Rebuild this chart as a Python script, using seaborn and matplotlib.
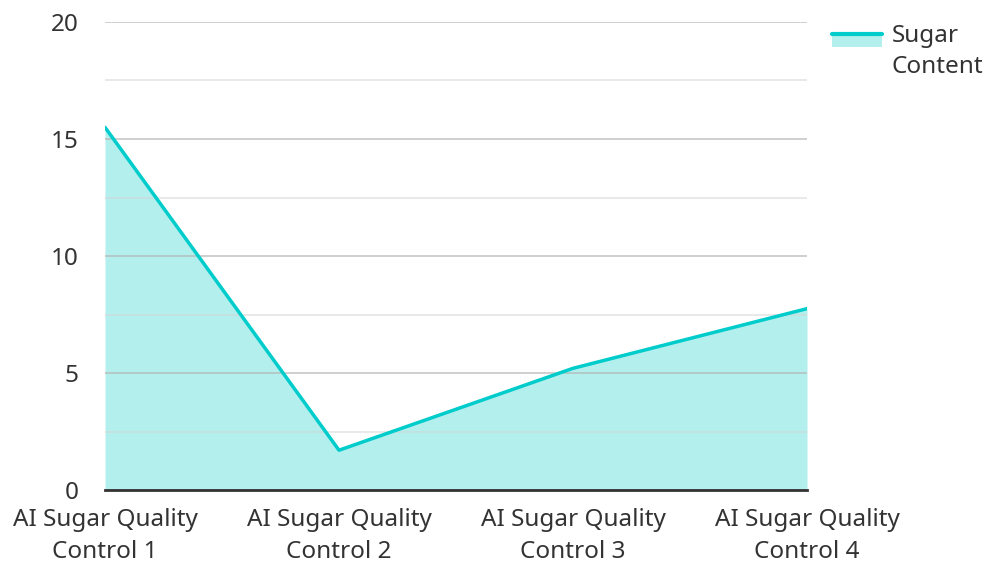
import matplotlib

matplotlib.use("Agg")
import matplotlib.pyplot as plt
import pandas as pd
import seaborn as sns
from matplotlib.legend_handler import HandlerBase
from matplotlib.lines import Line2D
from matplotlib.patches import Patch, Rectangle
from matplotlib.ticker import MultipleLocator

categories = [
  "AI Sugar Quality\nControl 1",
  "AI Sugar Quality\nControl 2",
  "AI Sugar Quality\nControl 3",
  "AI Sugar Quality\nControl 4",
]
sugar_content = [15.5, 1.7, 5.2, 7.75]
series_name = "Sugar\nContent"

LINE_COLOR = "#00cccc"
FILL_COLOR = "#b2efed"
TEXT_COLOR = "#333333"
FONT_SIZE = 17.5


class HandlerAreaLine(HandlerBase):
  # area swatch with the line on its top edge, lifted to the first text line
  def create_artists(
    self, legend, orig_handle, xdescent, ydescent, width, height, fontsize, trans
  ):
    center = height / 2 - ydescent + fontsize * 0.48
    half = 4.6
    rect = Rectangle(
      (-xdescent, center - half), width, 2 * half,
      facecolor=FILL_COLOR, edgecolor="none", transform=trans,
    )
    line = Line2D(
      [-xdescent, -xdescent + width], [center + half, center + half],
      color=LINE_COLOR, lw=3, transform=trans,
    )
    return [rect, line]


sns.set_theme(style="white")
plt.rcParams["font.family"] = ["Noto Sans", "DejaVu Sans"]

df = pd.DataFrame({"x": range(len(categories)), "y": sugar_content})

fig = plt.figure(figsize=(9.89, 5.62), dpi=100)
ax = fig.add_axes([105 / 989, 72 / 562, 702 / 989, 468 / 562])

ax.fill_between(df["x"], df["y"], 0, color=FILL_COLOR, lw=0, zorder=1)
sns.lineplot(data=df, x="x", y="y", ax=ax, color=LINE_COLOR, lw=2.5, zorder=3)

ax.set_xlim(0, len(categories) - 1)
ax.set_ylim(0, 20)
ax.yaxis.set_major_locator(MultipleLocator(5))
ax.yaxis.set_minor_locator(MultipleLocator(2.5))
ax.grid(which="major", axis="y", color="#b5b5b5", lw=1.2, alpha=0.75, zorder=2)
ax.grid(which="minor", axis="y", color="#d5d5d5", lw=1.2, alpha=0.6, zorder=2)
ax.set_axisbelow(False)

ax.set_xticks(df["x"])
ax.set_xticklabels(categories, linespacing=1.42)
ax.set_xlabel("")
ax.set_ylabel("")
ax.tick_params(axis="both", length=0, labelsize=FONT_SIZE, labelcolor=TEXT_COLOR)
ax.tick_params(axis="x", pad=13)
ax.tick_params(axis="y", pad=19)

for side in ["top", "right", "left"]:
  ax.spines[side].set_visible(False)
ax.spines["bottom"].set_color(TEXT_COLOR)
ax.spines["bottom"].set_linewidth(2)
ax.spines["bottom"].set_zorder(4)

proxy = Patch(facecolor=FILL_COLOR)
leg = fig.legend(
  [proxy],
  [series_name],
  handler_map={Patch: HandlerAreaLine()},
  loc="upper left",
  bbox_to_anchor=(810 / 989, 1 - 2 / 562),
  frameon=False,
  fontsize=FONT_SIZE,
  handlelength=2.06,
  handletextpad=0.41,
)
for t in leg.get_texts():
  t.set_color(TEXT_COLOR)
  t.set_linespacing(1.42)

fig.savefig("out.png", dpi=100)
